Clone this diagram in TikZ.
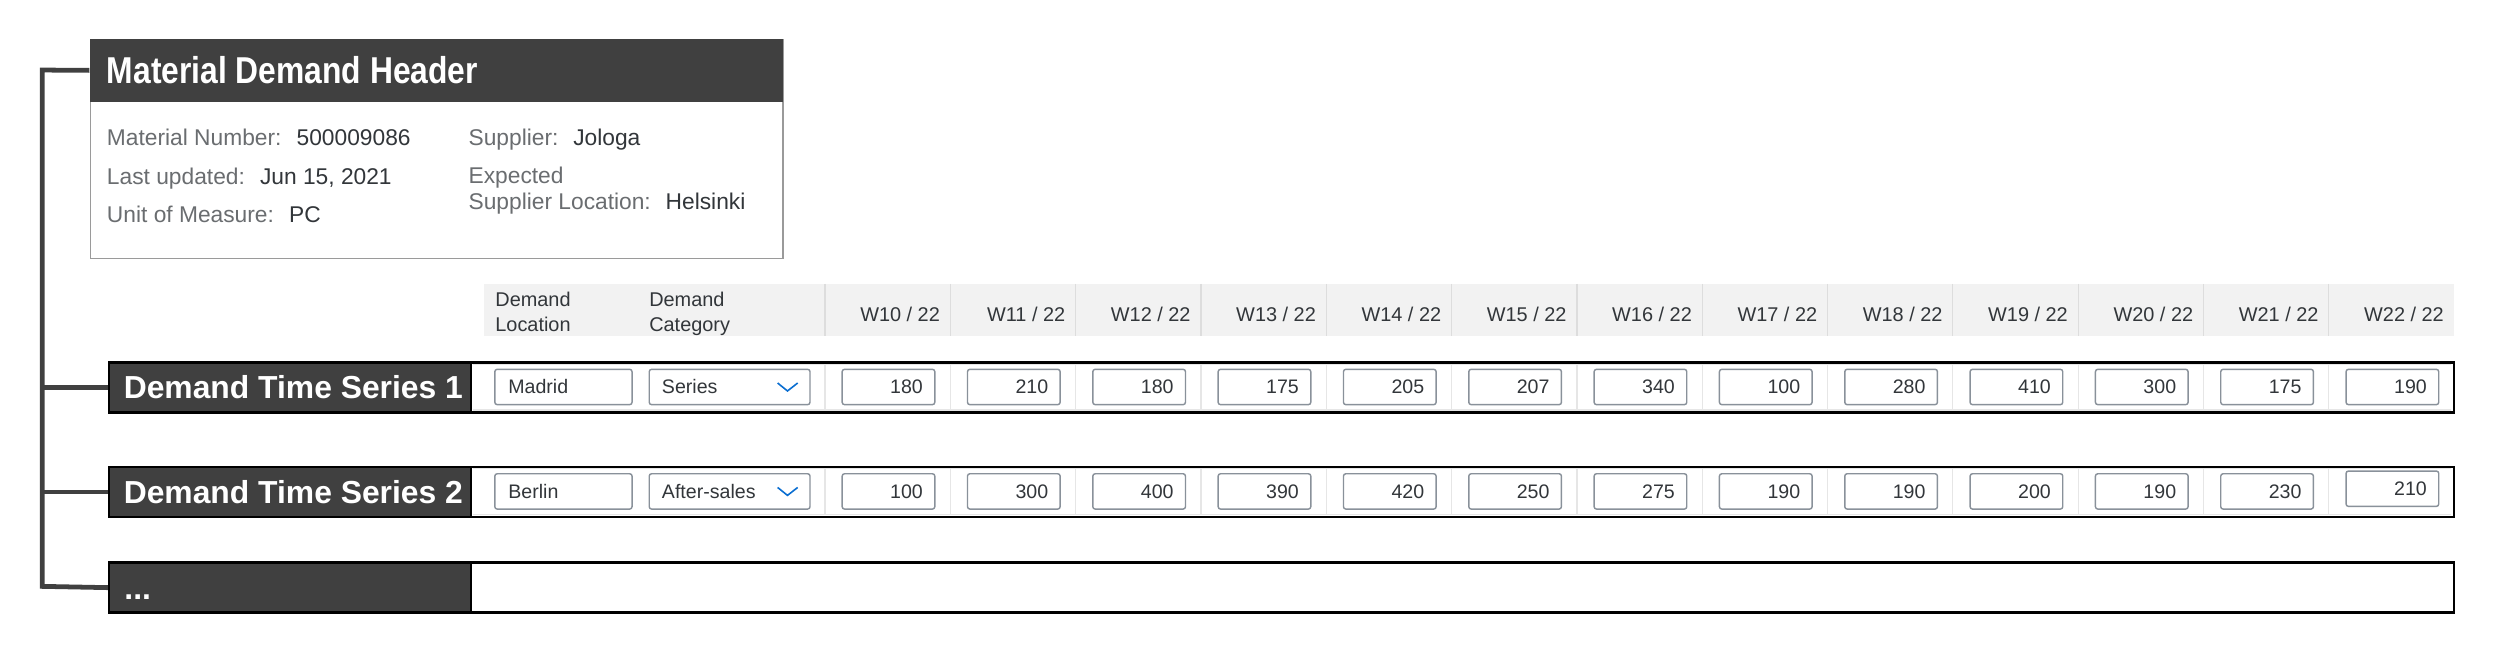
\documentclass[tikz,border=0pt]{standalone}
\usepackage{fontspec}
\setmainfont{Liberation Sans}
\usetikzlibrary{calc}
\definecolor{dark}{HTML}{404040}
\definecolor{lab}{HTML}{6A6D70}
\definecolor{val}{HTML}{32363A}
\definecolor{hdrbg}{HTML}{F2F2F2}
\definecolor{sepc}{HTML}{DDDDDD}
\definecolor{rowsep}{HTML}{E6E6E6}
\definecolor{inbd}{HTML}{89919A}
\definecolor{chev}{HTML}{0A6ED1}
\definecolor{hdrbd}{HTML}{9A9A9A}
\begin{document}
\begin{tikzpicture}[x=1pt,y=-1pt,
  conn/.style={draw=dark,line width=3pt,line join=miter},
  rowbox/.style={draw=black,fill=white,line width=1.6pt,minimum width=1472.9pt,minimum height=31.5pt,inner sep=0,anchor=north west},
  tsbox/.style={draw=black,fill=dark,line width=1.6pt,minimum width=227.4pt,minimum height=31.5pt,inner sep=0,anchor=north west,text=white,font=\bfseries\fontsize{20}{24}\selectfont},
  fieldtxt/.style={anchor=base west,inner sep=0,font=\fontsize{14.3}{16.3}\selectfont,text=lab},
  colhead/.style={inner sep=0,font=\fontsize{12.5}{15.5}\selectfont,text=val},
  inbase/.style={draw=inbd,fill=white,rounded corners=1.5pt,line width=0.9pt,minimum height=22.2pt,inner ysep=0,anchor=north west,font=\fontsize{12.3}{14}\selectfont,text=val},
  locbox/.style={inbase,text width=69.2pt,inner xsep=8.5pt,align=left},
  catbox/.style={inbase,text width=85pt,inner xsep=8pt,align=left},
  numbox/.style={inbase,text width=43.2pt,inner xsep=7.5pt,align=right},
  sepline/.style={draw=sepc,line width=0.8pt},
  rsep/.style={draw=rowsep,line width=0.8pt}
]
\useasboundingbox (0,0) rectangle (1568,413);

% ---------- header ----------
\node[draw=hdrbd,line width=0.8pt,fill=white,minimum width=435pt,minimum height=137.4pt,inner sep=0,anchor=north west] (hdr) at (56.5,24.5) {};
\node[fill=dark,minimum width=435.8pt,minimum height=39.8pt,inner sep=0,anchor=north west] (hdrbar) at (56.1,24.1) {};
\node[anchor=base west,inner sep=0,text=white,font=\bfseries\fontsize{23.5}{26}\selectfont] (hdrtitle) at (67,52.3) {\scalebox{0.85}[1]{Material Demand Header}};

\node[fieldtxt] (f1) at (67,91.1) {Material Number:\hspace{9.5pt}{\color{val}500009086}};
\node[fieldtxt] (f2) at (67,115.6) {Last updated:\hspace{9.5pt}{\color{val}Jun 15, 2021}};
\node[fieldtxt] (f3) at (67,139.9) {Unit of Measure:\hspace{9.5pt}{\color{val}PC}};
\node[fieldtxt] (f4) at (294.2,91.1) {Supplier:\hspace{9.3pt}{\color{val}Jologa}};
\node[fieldtxt] (f5) at (294.2,115.2) {Expected};
\node[fieldtxt] (f6) at (294.2,131.5) {Supplier Location:\hspace{9.3pt}{\color{val}Helsinki}};

% ---------- column header ----------
\node[fill=hdrbg,minimum width=1237.5pt,minimum height=32.4pt,inner sep=0,anchor=north west] (colhdr) at (304,178.4) {};
\foreach \k in {0,...,12} {
  \draw[sepline] ({518.2+78.73*\k},178.4) -- ++(0,32.4);
}
\node[colhead,anchor=base west] (hloc1) at (311,192.5) {Demand};
\node[colhead,anchor=base west] (hloc2) at (311,208) {Location};
\node[colhead,anchor=base west] (hcat1) at (407.7,192.5) {Demand};
\node[colhead,anchor=base west] (hcat2) at (407.7,208) {Category};
\foreach \k in {0,...,12} {
  \pgfmathtruncatemacro\wk{10+\k}
  \node[colhead,anchor=base east] (w\k) at ({518.2+78.73*(\k+1)-6.3},202) {W\wk\ / 22};
}

% ---------- rows ----------
\foreach \r/\ty/\loc/\cat/\vals in {
  1/226.1/Madrid/Series/{180,210,180,175,205,207,340,100,280,410,300,175,190},
  2/291.7/Berlin/After-sales/{100,300,400,390,420,250,275,190,190,200,190,230,210}} {
  \node[rowbox] (r\r) at (67.8,{\ty+0.8}) {};
  \node[tsbox] (ts\r) at (67.8,{\ty+0.8}) {\hspace{4pt}Demand Time Series \r};
  \draw[rsep] (297,{\ty+2.8}) -- (1540,{\ty+2.8});
  \draw[rsep] (297,{\ty+31.4}) -- (1540,{\ty+31.4});
  \foreach \k in {0,...,12} {
    \draw[rsep] ({518.2+78.73*\k},{\ty+2.8}) -- ({518.2+78.73*\k},{\ty+31.4});
  }
  \node[locbox] (loc\r) at (310.4,{\ty+5.45}) {\loc};
  \node[catbox] (cat\r) at (407.4,{\ty+5.45}) {\cat};
  \draw[chev,line width=1pt] ($(cat\r.east)+(-20.8,-2.5)$) -- ($(cat\r.east)+(-14.6,2.5)$) -- ($(cat\r.east)+(-8.2,-2.5)$);
  \foreach \v [count=\k from 0] in \vals {
    \pgfmathsetmacro\dy{(\r==2 && \k==12) ? -1.7 : 0}
    \node[numbox] (v\r-\k) at ({518.2+78.73*\k+10.4},{\ty+5.45+\dy}) {\v};
  }
}

\node[rowbox] (r3) at (67.8,352.6) {};
\node[tsbox] (more) at (67.8,352.6) {};
\node[anchor=base west,inner sep=0,text=white,font=\bfseries\fontsize{20}{24}\selectfont] (moretxt) at (78,376.5) {...};

% ---------- connectors ----------
\coordinate (ttop) at (26.5,44);
\coordinate (tbot) at (26.5,368.35);
\draw[conn] (hdrbar.west) -- (ttop) -- (tbot) -- (more.west);
\draw[conn] (ttop |- ts1.west) -- (ts1.west);
\draw[conn] (ttop |- ts2.west) -- (ts2.west);
\end{tikzpicture}
\end{document}
